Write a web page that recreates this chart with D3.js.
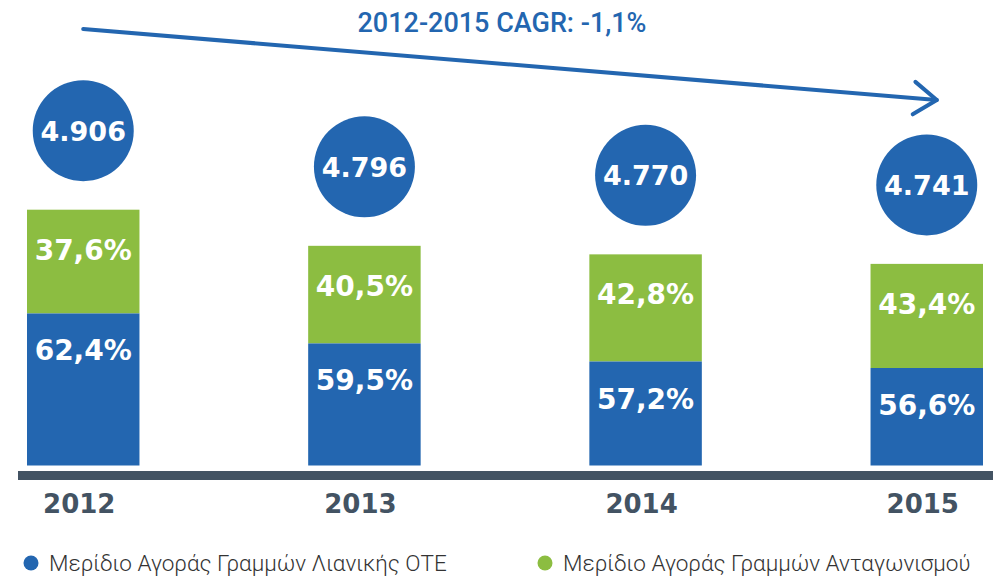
<!DOCTYPE html>
<html>
<head>
<meta charset="utf-8">
<script src="https://cdn.jsdelivr.net/npm/d3@7"></script>
<style>
  body { margin: 0; background: #fff; }
  svg { display: block; }
</style>
</head>
<body>
<div id="chart"></div>
<script>

const years = ["2012", "2013", "2014", "2015"];
const totalLines = [4906, 4796, 4770, 4741];     // thousands of lines
const oteShare = [62.4, 59.5, 57.2, 56.6];
const altShare = [37.6, 40.5, 42.8, 43.4];
const seriesNames = ["Μερίδιο Αγοράς Γραμμών Λιανικής ΟΤΕ", "Μερίδιο Αγοράς Γραμμών Ανταγωνισμού"];
const cagrLabel = "2012-2015 CAGR: -1,1%";

const blue = "#2366b0", green = "#8cbd41", slate = "#435363";

const width = 993, height = 578;
const base = 465.5;

const svg = d3.select("#chart").append("svg")
    .attr("width", width)
    .attr("height", height);

const gr = d3.formatLocale({decimal: ",", thousands: ".", grouping: [3], currency: ["", "€"]});
const fmtInt = gr.format(",d");
const fmtPct = d => gr.format(".1f")(d) + "%";

const data = years.map((y, i) => ({
    year: y,
    total: totalLines[i],
    ote: totalLines[i] * oteShare[i] / 100,
    oteShare: oteShare[i],
    altShare: altShare[i]
}));

const x = d3.scaleBand().domain(years).range([27, 983]).paddingInner(0.6).paddingOuter(0);

// the original uses broken (non-zero) axes: one for the bar total, one for the OTE segment
const yTotal = d3.scaleLinear().domain([4127, 4906]).range([base, base - 255.8]);
const yOte = d3.scaleLinear().domain([2008, 3061]).range([base, base - 152]);

const bars = svg.append("g").selectAll("g").data(data).join("g");

bars.append("rect")
    .attr("x", d => x(d.year))
    .attr("width", x.bandwidth())
    .attr("y", d => yTotal(d.total))
    .attr("height", d => yOte(d.ote) - yTotal(d.total))
    .attr("fill", green);

bars.append("rect")
    .attr("x", d => x(d.year))
    .attr("width", x.bandwidth())
    .attr("y", d => yOte(d.ote))
    .attr("height", d => base - yOte(d.ote))
    .attr("fill", blue);

const labelFont = "'DejaVu Sans', sans-serif";

bars.append("text")
    .attr("x", d => x(d.year) + x.bandwidth() / 2)
    .attr("y", d => yTotal(d.total) + 50)
    .attr("text-anchor", "middle")
    .style("font", "bold 28px " + labelFont)
    .attr("fill", "#fff")
    .text(d => fmtPct(d.altShare));

bars.append("text")
    .attr("x", d => x(d.year) + x.bandwidth() / 2)
    .attr("y", d => yOte(d.ote) + 47)
    .attr("text-anchor", "middle")
    .style("font", "bold 28px " + labelFont)
    .attr("fill", "#fff")
    .text(d => fmtPct(d.oteShare));

// total bubbles
bars.append("circle")
    .attr("cx", d => x(d.year) + x.bandwidth() / 2)
    .attr("cy", d => yTotal(d.total) - 79)
    .attr("r", 50.5)
    .attr("fill", blue);

bars.append("text")
    .attr("x", d => x(d.year) + x.bandwidth() / 2)
    .attr("y", d => yTotal(d.total) - 79 + 10)
    .attr("text-anchor", "middle")
    .style("font", "bold 27px " + labelFont)
    .attr("fill", "#fff")
    .text(d => fmtInt(d.total));

// base line + year labels
svg.append("rect")
    .attr("x", 18).attr("y", 471)
    .attr("width", width - 18).attr("height", 9)
    .attr("fill", slate);

const xAxis = d3.axisBottom(x).tickSize(0);
const gx = svg.append("g")
    .attr("transform", `translate(0, ${480})`)
    .call(xAxis);
gx.select(".domain").remove();
gx.selectAll("text")
    .attr("y", 33)
    .attr("dy", null)
    .attr("dx", -4)
    .attr("fill", slate)
    .style("font", "bold 26px " + labelFont);

// CAGR arrow
const ax1 = x(years[0]) + x.bandwidth() / 2,
      ax2 = x(years[years.length - 1]) + x.bandwidth() / 2 + 10;
const ay1 = 29, ay2 = 100;
const ang = Math.atan2(ay2 - ay1, ax2 - ax1);
const head = 28, spread = 0.62;

svg.append("path")
    .attr("d", `M${ax1},${ay1}L${ax2},${ay2}`)
    .attr("stroke", blue)
    .attr("stroke-width", 4)
    .attr("stroke-linecap", "round")
    .attr("fill", "none");

svg.append("path")
    .attr("d", `M${ax2 - head * Math.cos(ang - spread)},${ay2 - head * Math.sin(ang - spread)}` +
               `L${ax2},${ay2}` +
               `L${ax2 - head * Math.cos(ang + spread)},${ay2 - head * Math.sin(ang + spread)}`)
    .attr("stroke", blue)
    .attr("stroke-width", 4)
    .attr("stroke-linecap", "round")
    .attr("stroke-linejoin", "round")
    .attr("fill", "none");

svg.append("text")
    .attr("x", 502).attr("y", 32)
    .attr("text-anchor", "middle")
    .attr("fill", blue)
    .style("font", "500 27px Roboto, sans-serif")
    .text(cagrLabel);

// legend
const legend = svg.append("g").selectAll("g")
    .data(seriesNames)
    .join("g")
    .attr("transform", (d, i) => `translate(${i === 0 ? 31 : 545}, 563)`);

legend.append("circle")
    .attr("r", 7.5)
    .attr("fill", (d, i) => i === 0 ? blue : green);

legend.append("text")
    .attr("x", 18)
    .attr("y", 8)
    .attr("fill", "#333")
    .style("font", "300 22.5px Roboto, sans-serif")
    .text(d => d);

</script>
</body>
</html>
